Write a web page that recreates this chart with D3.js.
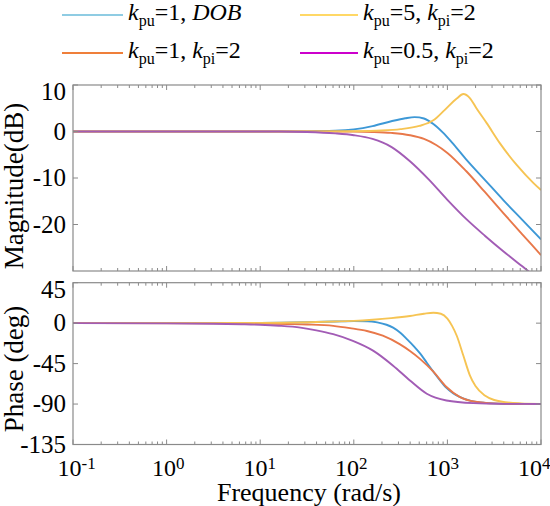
<!DOCTYPE html>
<html><head><meta charset="utf-8">
<script src="https://cdn.jsdelivr.net/npm/d3@7"></script>
</head><body style="margin:0">
<svg id="c" width="550" height="506"></svg>
<script>
// ---------- data (x = log10 of frequency in rad/s) ----------
const xTickExps = [-1, 0, 1, 2, 3, 4];
const magTicks = [10, 0, -10, -20];
const phaseTicks = [45, 0, -45, -90, -135];

const legendLabels = [
  [["k","i"],["pu","sub"],["=1, ",""],["DOB","i"]],
  [["k","i"],["pu","sub"],["=1, ",""],["k","i"],["pi","sub"],["=2",""]],
  [["k","i"],["pu","sub"],["=5, ",""],["k","i"],["pi","sub"],["=2",""]],
  [["k","i"],["pu","sub"],["=0.5, ",""],["k","i"],["pi","sub"],["=2",""]]
];

const magDOB = [[-1,0],[1,0],[1.5,0.03],[1.8,0.15],[2.0,0.45],[2.2,1.15],[2.4,2.2],[2.55,2.85],[2.65,3.1],[2.75,2.8],[2.85,1.6],[2.95,-0.2],[3.05,-2.4],[3.2,-6.0],[3.4,-10.4],[3.6,-14.8],[3.8,-19.0],[4.0,-23.2]];
const magK1 = [[-1,0],[1.5,0],[2.0,-0.03],[2.2,-0.1],[2.4,-0.3],[2.6,-0.8],[2.75,-1.6],[2.88,-2.9],[3.0,-4.6],[3.2,-8.5],[3.4,-13.0],[3.6,-17.6],[3.8,-22.1],[4.0,-26.6]];
const magK5 = [[-1,0],[1.5,0],[2.0,0.05],[2.3,0.2],[2.5,0.5],[2.7,1.2],[2.85,2.4],[2.97,4.6],[3.1,7.1],[3.17,8.05],[3.24,7.2],[3.31,5.0],[3.42,1.8],[3.56,-2.5],[3.74,-7.2],[3.92,-11.1],[4.0,-12.6]];
const magK05 = [[-1,0],[1.2,0],[1.5,-0.1],[1.8,-0.4],[2.0,-0.8],[2.2,-1.6],[2.4,-3.3],[2.6,-6.4],[2.8,-10.3],[3.0,-14.7],[3.2,-18.8],[3.4,-22.4],[3.6,-25.8],[3.8,-29.0],[4.0,-32.2]];

const phDOB = [[-1,0],[1.0,0.3],[1.5,1.0],[1.8,1.8],[2.0,2.3],[2.15,2.1],[2.25,0.8],[2.35,-1.8],[2.42,-5],[2.5,-11],[2.57,-18],[2.64,-25.5],[2.71,-34],[2.78,-44],[2.85,-54],[2.92,-63.5],[2.99,-72],[3.06,-78],[3.13,-82],[3.25,-86.5],[3.4,-88.7],[3.6,-89.6],[4.0,-90]];
const phK1 = [[-1,0],[0.5,-0.1],[1.0,-0.5],[1.3,-1.0],[1.5,-1.5],[1.78,-3],[1.96,-5.5],[2.14,-8.7],[2.31,-14],[2.49,-23.4],[2.6,-31],[2.71,-40],[2.85,-54],[2.99,-71],[3.13,-82],[3.3,-87.5],[3.5,-89.3],[4.0,-90]];
const phK5 = [[-1,0],[1.0,0.3],[1.5,1.0],[1.8,1.8],[2.0,2.5],[2.2,3.8],[2.4,5.6],[2.6,8.0],[2.75,10.5],[2.85,11.6],[2.93,10.5],[3.0,5],[3.05,-3],[3.1,-14],[3.17,-36],[3.24,-58],[3.3,-70],[3.4,-80.5],[3.5,-85.5],[3.7,-88.8],[4.0,-90]];
const phK05 = [[-1,0],[0,-0.2],[0.5,-0.6],[0.8,-1.2],[1.0,-1.8],[1.2,-2.9],[1.43,-5],[1.6,-8],[1.78,-12.3],[1.99,-19.7],[2.21,-30.8],[2.42,-47.3],[2.6,-63.8],[2.78,-78.5],[2.99,-86],[3.28,-89],[3.6,-89.8],[4.0,-90]];

const curveColors = {dob:"#3d98d6", k1:"#e8784a", k5:"#f6c453", k05:"#a25cb5"};
const legendColors = ["#8fcce3", "#ef7f3a", "#ffd866", "#cc00cc"];

// ---------- layout ----------
const svg = d3.select("#c");
const L = 73, R = 541;
const topP = {y0: 85, y1: 271, dom: [-30, 10]};
const botP = {y0: 282.7, y1: 444.5, dom: [-135, 45]};
const axisColor = "#8a8a8a";

const x = d3.scaleLog().domain([0.1, 1e4]).range([L, R]);
const toF = e => Math.pow(10, e);
function addText(size) {
  return svg.append("text").attr("font-size", size)
    .attr("font-family", "Liberation Serif, Tinos, Times New Roman")
    .style("font-family", '"Liberation Serif", "Tinos", "Times New Roman"');
}

const minorVals = [];
for (let e = -1; e < 4; e++) for (let k = 2; k <= 9; k++) minorVals.push(k * Math.pow(10, e));
const majorVals = xTickExps.map(toF);

function drawPanel(p, series, id) {
  const y = d3.scaleLinear().domain(p.dom).range([p.y1, p.y0]);
  svg.append("clipPath").attr("id", id).append("rect")
    .attr("x", L).attr("y", p.y0).attr("width", R - L).attr("height", p.y1 - p.y0);
  const line = d3.line().x(d => x(toF(d[0]))).y(d => y(d[1])).curve(d3.curveMonotoneX);
  series.forEach(s => {
    svg.append("path").attr("clip-path", `url(#${id})`).attr("d", line(s.data)).attr("fill", "none")
      .attr("stroke", curveColors[s.key]).attr("stroke-width", 1.9).attr("stroke-linejoin", "round");
  });
  const tick = (x1, y1, x2, y2) => svg.append("line").attr("x1", x1).attr("y1", y1)
    .attr("x2", x2).attr("y2", y2).attr("stroke", axisColor).attr("stroke-width", 1);
  majorVals.forEach(v => { tick(x(v), p.y1, x(v), p.y1 - 5); tick(x(v), p.y0, x(v), p.y0 + 5); });
  minorVals.forEach(v => { tick(x(v), p.y1, x(v), p.y1 - 3); tick(x(v), p.y0, x(v), p.y0 + 3); });
  p.ticks.forEach(v => { tick(L, y(v), L + 5, y(v)); tick(R, y(v), R - 5, y(v)); });
  svg.append("rect").attr("x", L).attr("y", p.y0).attr("width", R - L).attr("height", p.y1 - p.y0)
    .attr("fill", "none").attr("stroke", axisColor).attr("stroke-width", 1.2);
  p.ticks.forEach((v, i) => {
    addText(25).attr("x", 66).attr("y", y(v) + (i === 0 ? 6.5 : 0) + 8.3)
      .attr("text-anchor", "end").text(v < 0 ? "-" + Math.abs(v) : String(v));
  });
}

topP.ticks = magTicks; botP.ticks = phaseTicks;
drawPanel(topP, [
  {key:"dob", data:magDOB},{key:"k1", data:magK1},{key:"k5", data:magK5},{key:"k05", data:magK05}
], "clipTop");
drawPanel(botP, [
  {key:"dob", data:phDOB},{key:"k1", data:phK1},{key:"k5", data:phK5},{key:"k05", data:phK05}
], "clipBot");

// x tick labels (10^n)
xTickExps.forEach((e, i) => {
  const t = addText(24).attr("x", x(toF(e)) + 3.7 - 2.1 * i).attr("y", 476).attr("text-anchor", "middle");
  t.append("tspan").text("10");
  t.append("tspan").attr("font-size", 17).attr("dy", -7).text(e < 0 ? "-" + Math.abs(e) : String(e));
});

// axis titles
addText(26).attr("x", (L + R) / 2 + 2).attr("y", 501).attr("text-anchor", "middle").text("Frequency (rad/s)");
addText(27).attr("transform", "translate(23,186) rotate(-90)").attr("text-anchor", "middle").text("Magnitude(dB)");
addText(27).attr("transform", "translate(23,369) rotate(-90)").attr("text-anchor", "middle").text("Phase (deg)");

// legend
const legPos = [[62, 15], [62, 53], [300, 15], [300, 53]];
const legLen = [61, 61, 58, 58];
legendLabels.forEach((parts, i) => {
  const [lx, ly] = legPos[i];
  svg.append("line").attr("x1", lx).attr("x2", lx + legLen[i]).attr("y1", ly).attr("y2", ly)
    .attr("stroke", legendColors[i]).attr("stroke-width", 2);
  const t = addText(24).attr("x", lx + legLen[i] + 5).attr("y", ly + 5);
  let shifted = false;
  parts.forEach(([str, style]) => {
    const ts = t.append("tspan").text(str);
    if (style === "i") ts.style("font-style", "italic");
    if (style === "sub") { ts.attr("font-size", 16).attr("dy", 6); shifted = true; }
    else if (shifted) { ts.attr("dy", -6); shifted = false; }
  });
});
</script>
</body></html>
